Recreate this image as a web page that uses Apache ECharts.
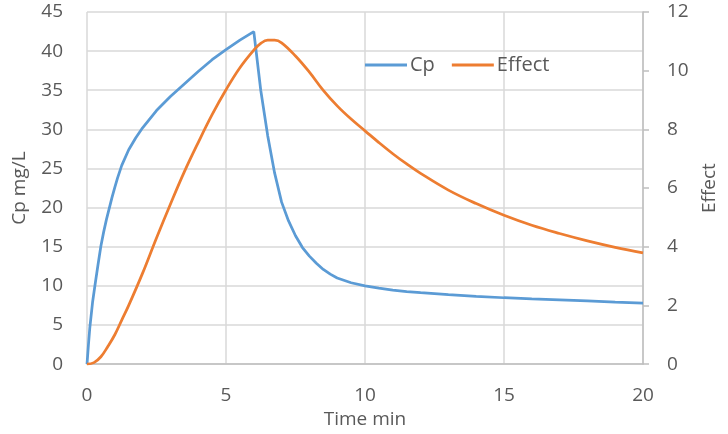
<!DOCTYPE html>
<html><head><meta charset="utf-8">
<script src="https://cdn.jsdelivr.net/npm/echarts@6/dist/echarts.min.js"></script>
<style>html,body{margin:0;padding:0;background:#fff}#c{width:728px;height:434px}</style>
</head><body><div id="c"></div>
<script>
const cpTimes = [0,0.05,0.1,0.2,0.3,0.4,0.5,0.6,0.7,0.8,0.9,1.0,1.1,1.25,1.5,1.75,2,2.5,3,3.5,4,4.5,5,5.5,6,6.1,6.25,6.5,6.75,7,7.25,7.5,7.75,8,8.25,8.5,8.75,9,9.5,10,10.5,11,11.5,12,13,14,15,16,17,18,19,20];
const cpValues = [0,2.4,4.6,7.9,10.4,12.8,15.1,16.9,18.5,19.9,21.3,22.6,23.8,25.4,27.4,28.9,30.2,32.4,34.2,35.8,37.4,38.9,40.2,41.4,42.5,39.5,35,29.2,24.4,20.7,18.3,16.4,14.9,13.8,12.9,12.1,11.5,11.0,10.4,10.0,9.7,9.45,9.27,9.12,8.88,8.67,8.48,8.33,8.2,8.07,7.93,7.8];
const effTimes = [0,0.25,0.5,0.75,1,1.25,1.5,2,2.5,3,3.5,4,4.5,5,5.5,6,6.25,6.5,6.75,7,7.5,8,8.5,9,9.5,10,10.5,11,11.5,12,13,14,15,16,17,18,19,20];
const effValues = [0,0.05,0.25,0.6,1.0,1.5,2.0,3.1,4.3,5.45,6.55,7.55,8.5,9.35,10.1,10.7,10.93,11.04,11.04,10.95,10.5,9.95,9.33,8.8,8.35,7.95,7.55,7.17,6.82,6.5,5.93,5.47,5.07,4.73,4.45,4.2,3.98,3.79];
const xTicks = [0,5,10,15,20];

const font = 'Open Sans';
const txt = '#595959';
const chart = echarts.init(document.getElementById('c'));
chart.setOption({
  animation:false,
  textStyle:{fontFamily:font},
  grid:{left:87,right:85,top:12,bottom:68,containLabel:false},
  legend:{
    left:360, top:50, itemWidth:42, itemHeight:3, itemGap:17,
    icon:'rect',
    textStyle:{fontFamily:font,fontSize:20,color:txt,padding:[0,0,0,-2]},
    data:['Cp','Effect']
  },
  xAxis:{
    type:'value', min:0, max:20, interval:5,
    name:'Time min', nameLocation:'middle', nameGap:43,
    nameTextStyle:{fontFamily:font,fontSize:19,color:txt},
    axisLine:{show:true,lineStyle:{color:'#bfbfbf',width:1.5}},
    axisTick:{show:false},
    axisLabel:{fontFamily:font,fontSize:19,color:txt,margin:22,
      formatter:v=>xTicks.includes(v)?String(v):''},
    splitLine:{show:true,lineStyle:{color:'#d9d9d9',width:1.5}}
  },
  yAxis:[{
    type:'value', min:0, max:45, interval:5,
    name:'Cp mg/L', nameLocation:'middle', nameGap:58, nameRotate:90,
    nameTextStyle:{fontFamily:font,fontSize:19,color:txt},
    axisLine:{show:false}, axisTick:{show:false},
    axisLabel:{fontFamily:font,fontSize:19,color:txt,margin:24},
    splitLine:{show:true,lineStyle:{color:'#d9d9d9',width:1.5}}
  },{
    type:'value', min:0, max:12, interval:2, position:'right',
    name:'Effect', nameLocation:'middle', nameGap:55, nameRotate:90,
    nameTextStyle:{fontFamily:font,fontSize:19,color:txt},
    axisLine:{show:true,lineStyle:{color:'#bfbfbf',width:1.5}},
    axisTick:{show:true,inside:false,length:6,lineStyle:{color:'#bfbfbf',width:1.5}},
    axisLabel:{fontFamily:font,fontSize:19,color:txt,margin:24},
    splitLine:{show:false}
  }],
  series:[{
    name:'Cp', type:'line', yAxisIndex:0, symbol:'none', smooth:false,
    lineStyle:{color:'#5B9BD5',width:2.75}, itemStyle:{color:'#5B9BD5'},
    data:cpTimes.map((t,i)=>[t,cpValues[i]])
  },{
    name:'Effect', type:'line', yAxisIndex:1, symbol:'none', smooth:0.4,
    lineStyle:{color:'#ED7D31',width:2.75}, itemStyle:{color:'#ED7D31'},
    data:effTimes.map((t,i)=>[t,effValues[i]])
  }]
});
</script></body></html>
